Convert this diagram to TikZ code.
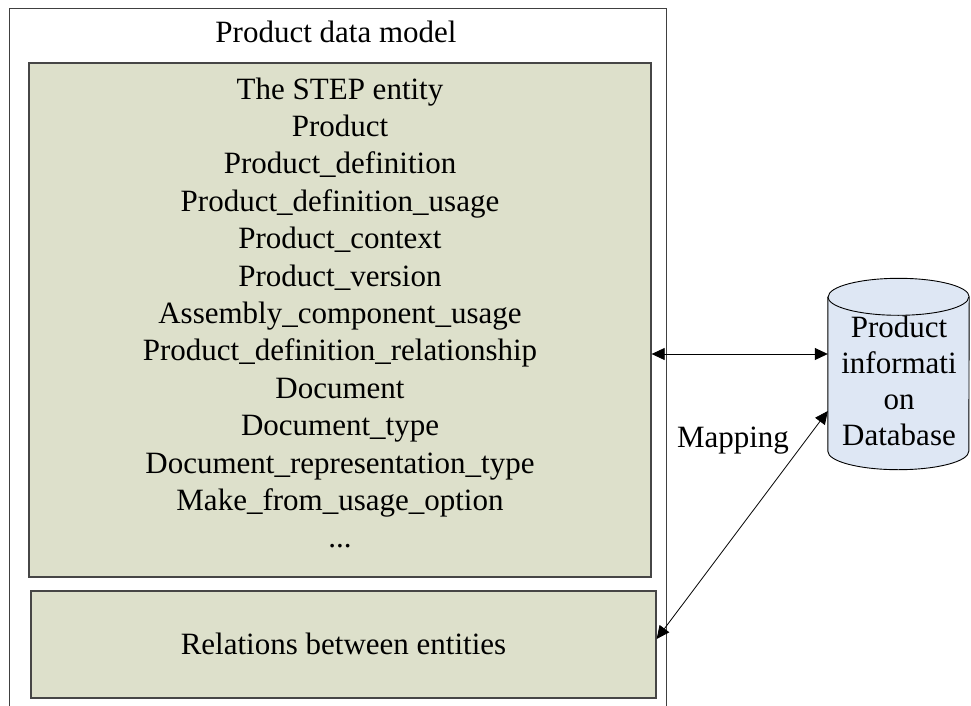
\documentclass[tikz,border=0pt]{standalone}
\usepackage{fontspec}
\setmainfont{Liberation Serif}
\usetikzlibrary{arrows.meta}
\definecolor{boxgreen}{RGB}{221,224,203}
\definecolor{dbblue}{RGB}{222,231,244}
\definecolor{boxline}{RGB}{70,70,70}
\tikzset{
  greenbox/.style={draw=boxline, line width=1.3pt, fill=boxgreen, inner sep=0pt},
  txt/.style={font=\fontsize{31}{37.4}\selectfont, align=center, inner sep=0pt},
  conn/.style={draw=black, line width=0.8pt, {Triangle[length=13pt,width=12pt]}-{Triangle[length=13pt,width=12pt]}},
  outerline/.style={draw=black!75, line width=1pt}
}
\begin{document}
\begin{tikzpicture}[x=1pt,y=-1pt]
\useasboundingbox (0,0) rectangle (971,706);
% outer container (open at the bottom)
\coordinate (oBL) at (9,706);
\coordinate (oTL) at (9,9);
\coordinate (oTR) at (666,9);
\coordinate (oBR) at (666,706);
\draw[outerline] (oBL) -- (oTL) -- (oTR) -- (oBR);
\node[txt, anchor=base] (title) at (336,43) {Product data model};
% entity box
\node[greenbox, minimum width=622pt, minimum height=514pt] (ents) at (340,320) {};
\node[txt] (entstxt) at (340,313) {The STEP entity\\Product\\Product\_definition\\Product\_definition\_usage\\Product\_context\\Product\_version\\Assembly\_component\_usage\\Product\_definition\_relationship\\Document\\Document\_type\\Document\_representation\_type\\Make\_from\_usage\_option\\...};
% relations box
\node[greenbox, minimum width=625pt, minimum height=107pt] (rel) at (343.5,644.5) {};
\node[txt, anchor=base] (reltxt) at (343.5,654) {Relations between entities};
% database cylinder
\node[minimum width=141pt, minimum height=154pt, inner sep=0pt] (db) at (898.5,374) {};
\fill[dbblue] (db.north west) -- (db.south west)
  arc[start angle=180, end angle=0, x radius=70.5, y radius=18.5]
  -- (db.north east)
  arc[start angle=0, end angle=-180, x radius=70.5, y radius=18.5] -- cycle;
\draw[line width=0.9pt] (db.north west) -- (db.south west)
  arc[start angle=180, end angle=0, x radius=70.5, y radius=18.5]
  -- (db.north east)
  arc[start angle=0, end angle=-180, x radius=70.5, y radius=18.5];
\draw[line width=0.9pt] (db.north west) arc[start angle=180, end angle=0, x radius=70.5, y radius=18.5];
\node[txt, font=\fontsize{31}{36}\selectfont] (dbtxt) at (899,380.5) {Product\\informati\\on\\Database};
% connectors
\draw[conn] ([yshift=-34pt]ents.east) -- ([yshift=20pt]db.west);
\draw[conn] ([yshift=5.5pt]rel.east) -- ([yshift=-37pt]db.west);
\node[txt, anchor=base] (maplbl) at (733,447) {Mapping};
\end{tikzpicture}
\end{document}
